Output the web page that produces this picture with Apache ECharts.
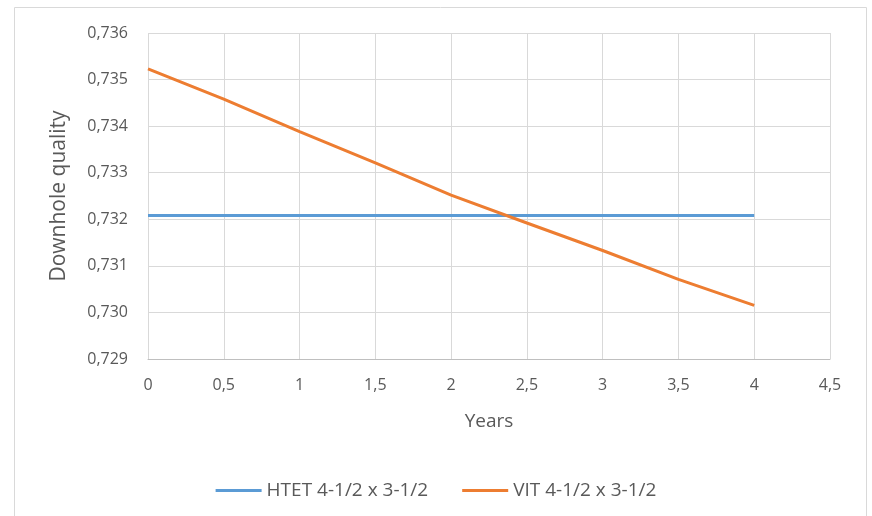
<!DOCTYPE html>
<html><head><meta charset="utf-8">
<script src="https://cdn.jsdelivr.net/npm/echarts@6/dist/echarts.min.js"></script>
<style>html,body{margin:0;padding:0;background:#fff}#c{width:872px;height:516px}</style>
</head><body><div id="c"></div>
<script>
var years = [0, 0.5, 1, 1.5, 2, 2.5, 3, 3.5, 4];
var htet = [0.73208, 0.73208, 0.73208, 0.73208, 0.73208, 0.73208, 0.73208, 0.73208, 0.73208];
var vit = [0.73523, 0.73458, 0.73388, 0.73321, 0.73252, 0.73192, 0.73133, 0.73071, 0.73015];
var seriesNames = ['HTET 4-1/2 x 3-1/2', 'VIT 4-1/2 x 3-1/2'];

var chart = echarts.init(document.getElementById('c'));
var font = 'Open Sans, Noto Sans, sans-serif';
function pairs(xs, ys){ return xs.map(function(x,i){return [x, ys[i]];}); }
chart.setOption({
  animation: false,
  textStyle: {fontFamily: font},
  graphic: [{type:'rect', shape:{x:14.5,y:7.5,width:852,height:520}, style:{fill:'none', stroke:'#d9d9d9', lineWidth:1}, silent:true}],
  grid: {left:148, right:42, top:33, bottom:157},
  xAxis: {
    type:'value', min:0, max:4.5, interval:0.5,
    name:'Years', nameLocation:'middle', nameGap:53,
    nameTextStyle:{fontSize:19, color:'#595959', fontFamily:font},
    axisLine:{show:true, lineStyle:{color:'#bfbfbf'}},
    axisTick:{show:false},
    axisLabel:{fontSize:16, color:'#595959', margin:18, formatter:function(v){return String(v).replace('.',',');}},
    splitLine:{show:true, lineStyle:{color:'#d9d9d9'}}
  },
  yAxis: {
    type:'value', min:0.729, max:0.736, interval:0.001,
    name:'Downhole quality', nameLocation:'middle', nameGap:78,
    nameTextStyle:{fontSize:21, color:'#595959', fontFamily:font},
    axisLine:{show:false}, axisTick:{show:false},
    axisLabel:{fontSize:16, color:'#595959', margin:20, formatter:function(v){return v.toFixed(3).replace('.',',');}},
    splitLine:{show:true, lineStyle:{color:'#d9d9d9'}}
  },
  legend: {
    top: 476, left:'center', itemWidth:46, itemHeight:3, itemGap:34, icon:'rect',
    textStyle:{fontSize:19, color:'#595959', fontFamily:font},
    data: seriesNames
  },
  series: [
    {name:seriesNames[0], type:'line', data:pairs(years, htet), showSymbol:false, symbol:'none', lineStyle:{color:'#5b9bd5', width:3}, itemStyle:{color:'#5b9bd5'}},
    {name:seriesNames[1], type:'line', data:pairs(years, vit), showSymbol:false, symbol:'none', lineStyle:{color:'#ed7d31', width:3}, itemStyle:{color:'#ed7d31'}}
  ]
});
</script></body></html>
